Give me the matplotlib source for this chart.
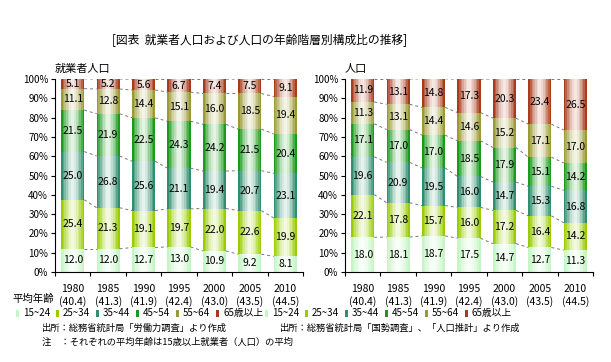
import numpy as np
import matplotlib.pyplot as plt
from matplotlib.colors import to_rgb
from matplotlib.patches import Rectangle

plt.rcParams['font.family'] = ['Noto Sans CJK JP', 'DejaVu Sans']

years = ['1980', '1985', '1990', '1995', '2000', '2005', '2010']
ages = ['15~24', '25~34', '35~44', '45~54', '55~64', '65歳以上']
avg_age = ['(40.4)', '(41.3)', '(41.9)', '(42.4)', '(43.0)', '(43.5)', '(44.5)']

# 就業者人口 (%)
emp_15 = [12.0, 12.0, 12.7, 13.0, 10.9, 9.2, 8.1]
emp_25 = [25.4, 21.3, 19.1, 19.7, 22.0, 22.6, 19.9]
emp_35 = [25.0, 26.8, 25.6, 21.1, 19.4, 20.7, 23.1]
emp_45 = [21.5, 21.9, 22.5, 24.3, 24.2, 21.5, 20.4]
emp_55 = [11.1, 12.8, 14.4, 15.1, 16.0, 18.5, 19.4]
emp_65 = [5.1, 5.2, 5.6, 6.7, 7.4, 7.5, 9.1]

# 人口 (%)
pop_15 = [18.0, 18.1, 18.7, 17.5, 14.7, 12.7, 11.3]
pop_25 = [22.1, 17.8, 15.7, 16.0, 17.2, 16.4, 14.2]
pop_35 = [19.6, 20.9, 19.5, 16.0, 14.7, 15.3, 16.8]
pop_45 = [17.1, 17.0, 17.0, 18.5, 17.9, 15.1, 14.2]
pop_55 = [11.3, 13.1, 14.4, 14.6, 15.2, 17.1, 17.0]
pop_65 = [11.9, 13.1, 14.8, 17.3, 20.3, 23.4, 26.5]

colors = ['#c4f5c4', '#99cc00', '#2e8f6e', '#1a9a1a', '#9a9a33', '#a83a1a']
W = 0.65
NSUB = 14


def grad_bar(ax, x, bottom, h, color):
    c = np.array(to_rgb(color))
    edges = np.linspace(x - W / 2, x + W / 2, NSUB + 1)
    for k in range(NSUB):
        xc = (edges[k] + edges[k + 1]) / 2
        t = abs(xc - x) / (W / 2)
        f = min(1.0, 0.1 + t ** 1.5)
        col = 1 - f * (1 - c)
        ax.bar(xc, h, width=W / NSUB * 1.02, bottom=bottom, color=col,
               linewidth=0)


def panel(ax, series, title):
    data = np.array(series)
    x = np.arange(len(years))
    cum = np.zeros(len(years))
    tops = []
    for s, vals in enumerate(data):
        for i in x:
            grad_bar(ax, i, cum[i], vals[i], colors[s])
            ax.text(i, cum[i] + vals[i] / 2, '%.1f' % vals[i], ha='center',
                    va='center', fontsize=7.5)
        cum = cum + vals
        tops.append(cum.copy())
    for top in tops:
        for i in x[:-1]:
            ax.plot([i + W / 2, i + 1 - W / 2], [top[i], top[i + 1]],
                    ls=(0, (3, 3)), color='#777777', lw=0.7)
    ax.set_xlim(-0.5, len(years) - 0.5)
    ax.set_ylim(0, 100)
    ax.set_yticks(range(0, 101, 10))
    ax.set_yticklabels(['%d%%' % v for v in range(0, 101, 10)], fontsize=7)
    ax.set_xticks(np.arange(-0.5, len(years), 1))
    ax.set_xticklabels([])
    ax.tick_params(direction='out', length=3, width=0.8, pad=2)
    for sp in ['top', 'right']:
        ax.spines[sp].set_visible(False)
    for sp in ['left', 'bottom']:
        ax.spines[sp].set_linewidth(0.8)
    for i in x:
        ax.annotate(years[i], xy=(i, 0), xycoords=('data', 'axes fraction'),
                    xytext=(0, -17), textcoords='offset pixels',
                    ha='center', va='center', fontsize=7.5)
        ax.annotate(avg_age[i], xy=(i, 0), xycoords=('data', 'axes fraction'),
                    xytext=(0, -30), textcoords='offset pixels',
                    ha='center', va='center', fontsize=7.5)
    ax.annotate(title, xy=(0, 1), xycoords='axes fraction',
                xytext=(0, 10), textcoords='offset pixels',
                ha='left', va='center', fontsize=8)


def legend_row(fig, x0):
    y = 1 - 313 / 362
    for k, (lab, c) in enumerate(zip(ages, colors)):
        xp = (x0 + 40 * k) / 611
        fig.add_artist(Rectangle((xp, y - 3.5 / 362), 3 / 611, 7 / 362,
                                 transform=fig.transFigure, facecolor=c,
                                 edgecolor='none'))
        fig.text(xp + 7 / 611, y, lab, ha='left', va='center', fontsize=7)


fig = plt.figure(figsize=(6.11, 3.62), dpi=100)
ax1 = fig.add_axes([55 / 611, 90 / 362, 248 / 611, 193 / 362])
ax2 = fig.add_axes([345 / 611, 90 / 362, 248 / 611, 193 / 362])

panel(ax1, [emp_15, emp_25, emp_35, emp_45, emp_55, emp_65], '就業者人口')
panel(ax2, [pop_15, pop_25, pop_35, pop_45, pop_55, pop_65], '人口')

fig.text(260 / 611, 1 - 40 / 362, '[図表  就業者人口および人口の年齢階層別構成比の推移]',
         ha='center', va='center', fontsize=8.5)
fig.text(12 / 611, 1 - 299 / 362, '平均年齢', ha='left', va='center',
         fontsize=7.5)

legend_row(fig, 16)
legend_row(fig, 265)

fig.text(42 / 611, 1 - 328 / 362, '出所：総務省統計局「労働力調査」より作成',
         ha='left', va='center', fontsize=6.7)
fig.text(280 / 611, 1 - 328 / 362, '出所：総務省統計局「国勢調査」、「人口推計」より作成',
         ha='left', va='center', fontsize=6.7)
fig.text(42 / 611, 1 - 342 / 362, '注　：それぞれの平均年齢は15歳以上就業者（人口）の平均',
         ha='left', va='center', fontsize=6.7)

fig.savefig('out.png', dpi=100)
